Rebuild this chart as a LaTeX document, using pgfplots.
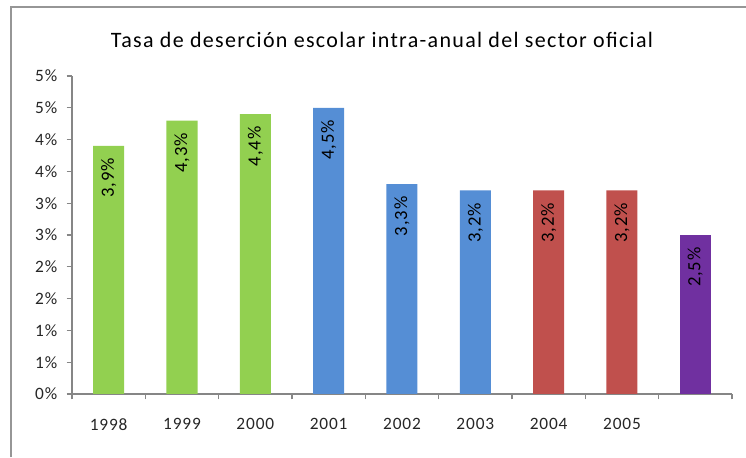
\documentclass[border=0pt]{standalone}
\usepackage{fontspec}
\setmainfont{Carlito}[LetterSpace=5]
\newfontfamily\titlefont{Carlito}[LetterSpace=6]
\usepackage{pgfplots}
\pgfplotsset{compat=1.18}
\definecolor{cgreen}{RGB}{146,208,80}
\definecolor{cblue}{RGB}{85,142,213}
\definecolor{cred}{RGB}{192,80,77}
\definecolor{cpurple}{RGB}{112,48,160}
\definecolor{axgray}{RGB}{134,134,134}
\definecolor{frgray}{RGB}{150,150,150}
\begin{document}
\begin{tikzpicture}
\useasboundingbox (0pt,0pt) rectangle (559.5pt,342.75pt);
\draw[frgray, line width=1.3pt] (8.25pt,0pt) -- (8.25pt,337.5pt) -- (559.5pt,337.5pt);
\node[font=\titlefont\fontsize{16.5}{19}\selectfont] at (286.5pt,312.75pt) {Tasa de deserción escolar intra-anual del sector oficial};
\begin{axis}[at={(54pt,47.25pt)}, anchor=south west, scale only axis,
  width=495pt, height=238.5pt,
  xmin=-0.5, xmax=8.5, ymin=0, ymax=5,
  axis lines*=left,
  axis line style={axgray, line width=1pt},
  ybar, bar width=23.25pt,
  tick align=outside,
  xtick={0,1,2,3,4,5,6,7},
  xticklabels={1998,1999,2000,2001,2002,2003,2004,2005},
  major x tick style={draw=none},
  minor xtick={-0.5,0.5,1.5,2.5,3.5,4.5,5.5,6.5,7.5,8.5},
  minor x tick style={axgray, line width=1pt},
  minor tick length=4pt,
  major tick length=4pt,
  ytick={0,0.5,1,1.5,2,2.5,3,3.5,4,4.5,5},
  yticklabels={0\%,1\%,1\%,2\%,2\%,3\%,3\%,4\%,4\%,5\%,5\%},
  major y tick style={axgray, line width=1pt},
  ticklabel style={font=\fontsize{13}{15}\selectfont, text=black!85},
  xticklabel style={yshift=-11pt},
  yticklabel style={xshift=-3.5pt},
  point meta=explicit symbolic,
  nodes near coords,
  every node near coord/.append style={rotate=90, anchor=east, inner xsep=9pt, font=\fontsize{14}{16}\selectfont, black},
]
\addplot[fill=cgreen, draw=none, bar shift=0pt] coordinates {(0,3.9) [3,9\%] (1,4.3) [4,3\%] (2,4.4) [4,4\%]};
\addplot[fill=cblue, draw=none, bar shift=0pt] coordinates {(3,4.5) [4,5\%] (4,3.3) [3,3\%] (5,3.2) [3,2\%]};
\addplot[fill=cred, draw=none, bar shift=0pt] coordinates {(6,3.2) [3,2\%] (7,3.2) [3,2\%]};
\addplot[fill=cpurple, draw=none, bar shift=0pt] coordinates {(8,2.5) [2,5\%]};
\end{axis}
\end{tikzpicture}
\end{document}
